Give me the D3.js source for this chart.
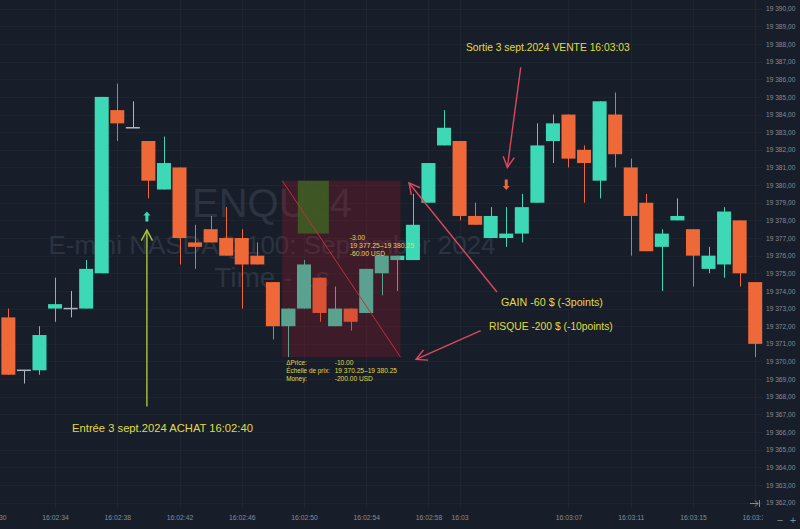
<!DOCTYPE html>
<html><head><meta charset="utf-8">
<script src="https://cdn.jsdelivr.net/npm/d3@7"></script>
<style>html,body{margin:0;padding:0;background:#171e2a;overflow:hidden}</style>
</head><body><svg id="c" width="800" height="529"></svg>
<script>
// ---------- DATA ----------
const times = ["16:02:30","16:02:31","16:02:32","16:02:33","16:02:34","16:02:35","16:02:36","16:02:37","16:02:38","16:02:39",
 "16:02:40","16:02:41","16:02:42","16:02:43","16:02:44","16:02:45","16:02:46","16:02:47","16:02:48","16:02:49",
 "16:02:50","16:02:51","16:02:52","16:02:53","16:02:54","16:02:55","16:02:56","16:02:57","16:02:58","16:02:59",
 "16:03:00","16:03:01","16:03:02","16:03:03","16:03:04","16:03:05","16:03:06","16:03:07","16:03:08","16:03:09",
 "16:03:10","16:03:11","16:03:12","16:03:13","16:03:14","16:03:15","16:03:16","16:03:17","16:03:18","16:03:19"];
const open  = [19370.0,19372.5,19369.5,19369.5,19373.0,19373.0,19373.0,19375.0,19384.25,19383.25,
 19382.5,19379.75,19381.0,19376.75,19377.5,19377.0,19377.0,19376.0,19374.5,19372.0,
 19373.0,19374.75,19372.0,19373.0,19372.75,19375.0,19375.75,19375.75,19379.0,19382.25,
 19382.5,19378.25,19377.0,19377.0,19377.25,19379.0,19382.5,19384.0,19382.0,19380.25,
 19384.0,19381.0,19379.0,19376.5,19378.0,19377.5,19375.25,19375.5,19378.0,19374.5];
const high  = [19372.0,19373.0,19369.5,19372.0,19374.75,19374.0,19375.75,19385.0,19385.75,19384.75,
 19382.5,19382.75,19381.0,19377.75,19378.25,19378.75,19377.5,19376.75,19374.5,19373.0,
 19375.75,19374.75,19374.25,19373.0,19375.25,19376.0,19376.0,19379.5,19381.25,19384.25,
 19382.5,19379.0,19378.75,19378.75,19379.5,19383.5,19384.0,19384.0,19382.25,19384.75,
 19385.25,19381.5,19379.5,19377.5,19379.25,19377.5,19376.5,19378.75,19378.0,19374.5];
const low   = [19369.5,19369.25,19368.75,19369.25,19372.25,19372.5,19373.0,19375.0,19382.5,19383.25,
 19379.25,19379.75,19375.5,19375.25,19376.75,19376.0,19373.0,19375.5,19371.25,19370.25,
 19373.0,19372.25,19372.0,19371.75,19372.75,19373.75,19374.0,19375.75,19379.0,19382.25,
 19378.0,19377.75,19377.0,19376.5,19376.75,19379.0,19381.25,19381.0,19379.0,19379.25,
 19381.0,19376.0,19376.25,19374.0,19378.0,19374.25,19375.0,19374.75,19374.25,19370.25];
const close = [19371.5,19369.25,19369.5,19371.5,19373.25,19373.0,19375.25,19385.0,19383.5,19383.25,
 19380.25,19381.25,19377.0,19376.5,19376.75,19376.0,19375.5,19375.5,19372.0,19373.0,
 19375.5,19372.75,19373.0,19372.25,19375.25,19376.0,19376.0,19377.75,19381.25,19383.25,
 19378.25,19377.75,19378.25,19377.25,19378.75,19382.25,19383.5,19381.5,19381.25,19384.75,
 19381.75,19378.25,19376.25,19377.25,19378.25,19376.0,19376.0,19378.5,19375.0,19371.0];

const timeTicks = ["16:02:30","16:02:34","16:02:38","16:02:42","16:02:46","16:02:50","16:02:54","16:02:58","16:03:00","16:03:07","16:03:11","16:03:15","16:03:19"];
const timeTickLabels = ["16:02:30","16:02:34","16:02:38","16:02:42","16:02:46","16:02:50","16:02:54","16:02:58","16:03","16:03:07","16:03:11","16:03:15","16:03:19"];
const priceTicks = [19362,19363,19364,19365,19366,19367,19368,19369,19370,19371,19372,19373,19374,19375,19376,19377,19378,19379,19380,19381,19382,19383,19384,19385,19386,19387,19388,19389,19390];

const watermarkLines = ["ENQU24","E-mini NASDAQ 100: September 2024","Time - 1s"];

// position tool
const toolTimes = ["16:02:48.6","16:02:56.2"];
const toolTargetTimes = ["16:02:49.6","16:02:51.6"];
const toolPrices = [19380.25, 19377.25, 19370.25]; // entry, target, stop
const toolTopText = ["-3.00","19 377.25\u201319 380.25","-60.00 USD"];
const toolBottomKeys = ["\u0394Price:","\u00c9chelle de prix:","Money:"];
const toolBottomVals = ["-10.00","19 370.25\u201319 380.25","-200.00 USD"];

// annotations
const entryTime = "16:02:40", exitTime = "16:03:03";
const entryLabel = "Entr\u00e9e 3 sept.2024 ACHAT 16:02:40";
const exitLabel = "Sortie 3 sept.2024 VENTE 16:03:03";
const gainLabel = "GAIN -60 $ (-3points)";
const riskLabel = "RISQUE -200 $ (-10points)";

// ---------- SETUP ----------
const W = 800, H = 529;
const BG = "#171e2a", GRID = "#1d2531";
const UP = "#3dd9b7", DOWN = "#ef6838", NEUTRAL = "#b2b5bd";
const YELLOW = "#e0dc3e", PINK = "#e0475e", LIME = "#adc43c";
const AXIS_TXT = "#868b95";
const FONT = "'Liberation Sans', Arial, sans-serif";

const parseT = s => { const [h,m,sec] = s.split(":").map(Number); return new Date(2024, 8, 3, h, m, 0, Math.round(sec*1000)); };

const x = d3.scaleTime().domain([parseT("16:02:30"), parseT("16:03:19")]).range([-7.2, 755.2]);
const y = d3.scaleLinear().domain([19362, 19390]).range([502.6, 8.7]);
const step = x(parseT("16:02:31")) - x(parseT("16:02:30"));
const bodyW = step * 0.9;

const svg = d3.select("#c");
svg.append("rect").attr("width", W).attr("height", H).attr("fill", BG);

const defs = svg.append("defs");
defs.append("clipPath").attr("id","pane").append("rect").attr("x",0).attr("y",0).attr("width",763).attr("height",509);

const pane = svg.append("g").attr("clip-path","url(#pane)");

// grid
pane.append("g").selectAll("line").data(priceTicks).join("line")
  .attr("x1",0).attr("x2",763).attr("y1",d=>Math.round(y(d))+0.5).attr("y2",d=>Math.round(y(d))+0.5)
  .attr("stroke",GRID).attr("stroke-width",1);
pane.append("g").selectAll("line").data(timeTicks).join("line")
  .attr("y1",0).attr("y2",509).attr("x1",d=>Math.round(x(parseT(d)))+0.5).attr("x2",d=>Math.round(x(parseT(d)))+0.5)
  .attr("stroke",GRID).attr("stroke-width",1);

// watermark
const wmSizes = [40, 28, 28], wmY = [203, 245, 277];
const wm = pane.append("g");
watermarkLines.forEach((t,i)=>{
  wm.append("text").attr("x",272).attr("y",wmY[i]).attr("dy","0.36em")
    .attr("text-anchor","middle").attr("font-family",FONT).attr("font-size",wmSizes[i])
    .attr("fill","#2c3341").text(t);
});
const wmWidths = [160, 447, null];
wm.selectAll("text").each(function(d,i){
  if (wmWidths[i]) {
    const w = this.getComputedTextLength();
    d3.select(this).attr("font-size", wmSizes[i]*wmWidths[i]/w);
  }
});

// candles
const candles = times.map((t,i)=>({t:parseT(t), o:open[i], h:high[i], l:low[i], c:close[i]}));
const col = d => d.c > d.o ? UP : (d.c < d.o ? DOWN : NEUTRAL);
const cg = pane.append("g");
cg.selectAll("line.wick").data(candles).join("line").attr("class","wick")
  .attr("x1",d=>Math.round(x(d.t))+0.5).attr("x2",d=>Math.round(x(d.t))+0.5)
  .attr("y1",d=>y(d.h)).attr("y2",d=>y(d.l))
  .attr("stroke",col).attr("stroke-width",1);
cg.selectAll("rect.body").data(candles).join("rect").attr("class","body")
  .attr("x",d=>x(d.t)-bodyW/2).attr("width",bodyW)
  .attr("y",d=>y(Math.max(d.o,d.c)) - (d.o===d.c?0.75:0))
  .attr("height",d=>Math.max(1.5, Math.abs(y(d.o)-y(d.c))))
  .attr("fill",col);

// position tool
const tx0 = x(parseT(toolTimes[0])), tx1 = x(parseT(toolTimes[1]));
pane.append("rect").attr("x",tx0).attr("width",tx1-tx0)
  .attr("y",y(toolPrices[0])).attr("height",y(toolPrices[2])-y(toolPrices[0]))
  .attr("fill","rgb(165,22,38)").attr("fill-opacity",0.28);
const gx0 = x(parseT(toolTargetTimes[0])), gx1 = x(parseT(toolTargetTimes[1]));
pane.append("rect").attr("x",gx0).attr("width",gx1-gx0)
  .attr("y",y(toolPrices[0])).attr("height",y(toolPrices[1])-y(toolPrices[0]))
  .attr("fill","rgb(62,90,36)").attr("fill-opacity",0.93);
pane.append("line").attr("x1",tx0).attr("y1",y(toolPrices[0])).attr("x2",tx1).attr("y2",y(toolPrices[2]))
  .attr("stroke","#c0303f").attr("stroke-width",1);

const smallTxt = (g, xx, yy, t, fs) => g.append("text").attr("x",xx).attr("y",yy).attr("dy","0.35em")
  .attr("font-family",FONT).attr("font-size",fs||6.8).attr("fill","#e2d64a").text(t);
const ttx = x(parseT("16:02:53"));
toolTopText.forEach((t,i)=> smallTxt(pane, ttx-1, y(toolPrices[1]) + 4.5 + i*7.6, t));
toolBottomKeys.forEach((t,i)=> smallTxt(pane, tx0+4, y(toolPrices[2]) + 6 + i*7.8, t, 6.4));
toolBottomVals.forEach((t,i)=> smallTxt(pane, tx0+52.5, y(toolPrices[2]) + 6 + i*7.8, t, 6.6));

// markers
const ex = x(parseT(entryTime)) - 1.5;
const upY = y(19378.5);
pane.append("path").attr("d",`M${ex},${upY} l3.5,4 h-2 v6 h-3 v-6 h-2 z`).attr("fill",UP);
const xx = x(parseT(exitTime));
const dnY = y(19379.72);
pane.append("path").attr("d",`M${xx},${dnY} l-3.5,-4 h2 v-6.5 h3 v6.5 h2 z`).attr("fill",DOWN);

// arrows
function arrow(x1,y1,x2,y2,color){
  pane.append("line").attr("x1",x1).attr("y1",y1).attr("x2",x2).attr("y2",y2)
    .attr("stroke",color).attr("stroke-width",1.4);
  const a = Math.atan2(y2-y1, x2-x1), L = 12, s = Math.PI/6.5;
  const p1 = [x2 - L*Math.cos(a - s), y2 - L*Math.sin(a - s)];
  const p2 = [x2 - L*Math.cos(a + s), y2 - L*Math.sin(a + s)];
  pane.append("path").attr("d",`M${p1[0]},${p1[1]} L${x2},${y2} L${p2[0]},${p2[1]}`)
    .attr("fill","none").attr("stroke",color).attr("stroke-width",1.4);
}
const xs = s => x(new Date(parseT("16:02:30").getTime() + s*1000));
arrow(ex, y(19367.45), ex, y(19377.45), LIME);
arrow(xs(33.93), y(19386.68), xs(33.07), y(19381.0), PINK);
arrow(xs(32.4), y(19373.94), xs(26.75), y(19380.12), PINK);
arrow(xs(31.36), y(19371.75), xs(27.2), y(19370.12), PINK);

// annotation labels
function label(t, xa, ya, anchor, width){
  const el = pane.append("text").attr("x",xa).attr("y",ya).attr("dy","0.36em")
    .attr("font-family",FONT).attr("font-size",11).attr("fill",YELLOW).attr("text-anchor",anchor).text(t);
  const w = el.node().getComputedTextLength();
  el.attr("font-size", 11*width/w);
}
label(entryLabel, 162.5, y(19366.23), "middle", 181);
label(exitLabel, 466, y(19387.83), "start", 164);
label(gainLabel, 501, y(19373.37), "start", 102);
label(riskLabel, 489, y(19372.01), "start", 124);

// ---------- AXES ----------
const fmt = d3.formatLocale({decimal:",", thousands:"\u00a0", grouping:[3], currency:["",""]}).format(",.2f");
const ya = svg.append("g").attr("transform","translate(766,0)")
  .call(d3.axisRight(y).tickValues(priceTicks).tickFormat(fmt).tickSize(0).tickPadding(0));
ya.select(".domain").remove();
ya.selectAll("text").attr("font-family",FONT).attr("font-size",6.6).attr("fill",AXIS_TXT);

defs.append("clipPath").attr("id","taxis").append("rect").attr("x",0).attr("y",505).attr("width",763).attr("height",24);
const xa = svg.append("g").attr("clip-path","url(#taxis)").append("g").attr("transform","translate(0,515.5)")
  .call(d3.axisBottom(x).tickValues(timeTicks.map(parseT)).tickFormat((d,i)=>timeTickLabels[i]).tickSize(0).tickPadding(0));
xa.select(".domain").remove();
xa.selectAll("text").attr("font-family",FONT).attr("font-size",6.8).attr("fill",AXIS_TXT);

// bottom-right controls
svg.append("path").attr("d","M750,503.5 h8 M755,500.5 l3,3 l-3,3 M759.5,500 v7").attr("stroke",AXIS_TXT).attr("fill","none").attr("stroke-width",1);
svg.append("text").attr("x",780).attr("y",520).attr("dy","0.35em").attr("text-anchor","middle").attr("font-family",FONT).attr("font-size",11).attr("fill",AXIS_TXT).text("\u2212");
svg.append("text").attr("x",793).attr("y",520).attr("dy","0.35em").attr("text-anchor","middle").attr("font-family",FONT).attr("font-size",11).attr("fill",AXIS_TXT).text("+");
</script></body></html>
